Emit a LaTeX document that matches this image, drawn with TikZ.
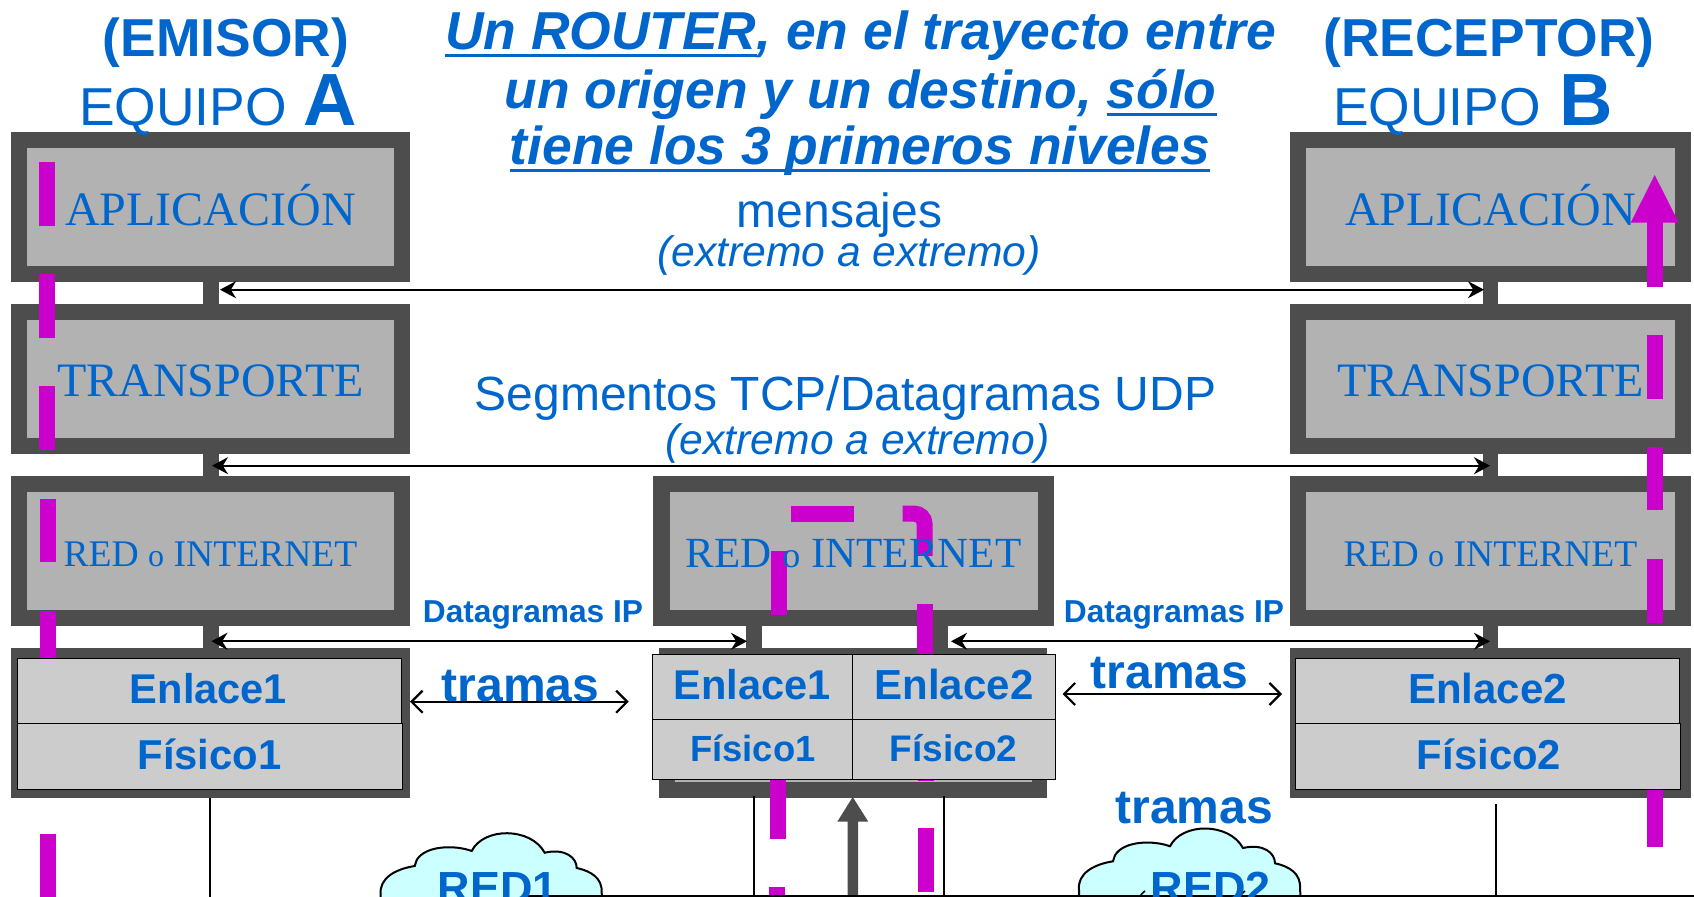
\documentclass[tikz,border=0pt]{standalone}
\usepackage{fontspec}
\usetikzlibrary{arrows.meta}
\setmainfont{Liberation Sans}
\newfontfamily\serifface{Liberation Serif}
\definecolor{tblue}{HTML}{0066CC}
\definecolor{dgray}{HTML}{4D4D4D}
\definecolor{lgray}{HTML}{B2B2B2}
\definecolor{cellg}{HTML}{CCCCCC}
\definecolor{magen}{HTML}{CC00CC}
\definecolor{cloudc}{HTML}{CCFFFF}
\newcommand{\bx}[6]{\node[#6,minimum width={(#4-#2)*0.5pt},minimum height={(#5-#3)*0.5pt}] (#1) at ({(#2+#4)/2},{(#3+#5)/2}) {};}
\newcommand{\tx}[6]{\node[lbl,font=#6] (#1) at (#2,#3) {#5};}
\newcommand{\pxsize}[1]{\fontsize{#1}{#1}\selectfont}
\newsavebox{\ulbox}
\newcommand{\ul}[1]{\sbox{\ulbox}{#1}\rlap{\rule[-3.6pt]{\wd\ulbox}{1.5pt}}\usebox{\ulbox}}
\tikzset{
 outerbox/.style={rectangle,fill=dgray,draw=none,inner sep=0pt,outer sep=0pt},
 innerbox/.style={rectangle,fill=lgray,draw=none,inner sep=0pt,outer sep=0pt},
 cellbox/.style={rectangle,fill=cellg,draw=black,line width=.5pt,inner sep=0pt,outer sep=0pt},
 lbl/.style={anchor=base,inner sep=0pt,outer sep=0pt,text=tblue},
 magd/.style={draw=magen,line width=8pt,line cap=butt},
 dbl/.style={draw=black,line width=1.1pt,{Stealth[length=8pt,width=8.5pt]}-{Stealth[length=8pt,width=8.5pt]}},
 opn/.style={draw=black,line width=1.1pt,{Straight Barb[length=5.5pt,width=11pt]}-{Straight Barb[length=5.5pt,width=11pt]}},
 vline/.style={draw=black,line width=1pt},
 cloudsh/.style={draw=black,fill=cloudc,line width=1pt},
}
\begin{document}
\begin{tikzpicture}[x=0.5pt,y=-0.5pt]
\useasboundingbox (0,0) rectangle (1694,897);
\clip (0,0) rectangle (1694,897);
% stubs
\bx{sa1}{203}{282}{218.5}{304}{outerbox}
\bx{sa2}{203}{454}{218.5}{476}{outerbox}
\bx{sa3}{203}{625}{218.5}{648}{outerbox}
\bx{sb1}{1482.7}{282}{1498.3}{304}{outerbox}
\bx{sb2}{1482.7}{454}{1498.3}{476}{outerbox}
\bx{sb3}{1482.7}{625}{1498.3}{648}{outerbox}
\bx{sr1}{746.3}{625}{762.3}{655}{outerbox}
\bx{sr2}{932.7}{625}{948}{655}{outerbox}
% boxes A
\bx{aapp}{11}{132}{410}{282}{outerbox}\bx{aappi}{27}{148}{394}{266}{innerbox}
\bx{atra}{11}{304}{410}{454}{outerbox}\bx{atrai}{27}{320}{394}{438}{innerbox}
\bx{ared}{11}{476}{410}{626}{outerbox}\bx{aredi}{27}{492}{394}{610}{innerbox}
\bx{aenl}{11}{648}{410}{798}{outerbox}
% boxes B
\bx{bapp}{1290.3}{132}{1690.7}{282}{outerbox}\bx{bappi}{1306.3}{148}{1675}{266}{innerbox}
\bx{btra}{1290.3}{304}{1690.7}{454}{outerbox}\bx{btrai}{1306.3}{320}{1675}{438}{innerbox}
\bx{bred}{1290.3}{476}{1690.7}{626}{outerbox}\bx{bredi}{1306.3}{492}{1675}{610}{innerbox}
\bx{benl}{1290.3}{648}{1690.7}{798}{outerbox}
% router
\bx{rred}{653.3}{476}{1053.7}{626}{outerbox}\bx{rredi}{669.7}{492.3}{1038}{610}{innerbox}
\bx{renl}{659}{648}{1047}{798}{outerbox}\bx{renli}{675}{655}{1032}{782}{innerbox}
% magenta path, column A
\draw[magd] (46.7,161.7) -- (46.7,226);
\draw[magd] (47,274) -- (47,338);
\draw[magd] (47.2,386.3) -- (47.2,450);
\draw[magd] (47.5,498.6) -- (47.5,562);
\draw[magd] (48,610.9) -- (48,675);
\draw[magd] (48.2,833.7) -- (48.2,897);
% magenta path, router
\draw[magd] (779,551) -- (779,615);
\draw[magd] (778,775) -- (778,839);
\draw[magd] (777.3,887.3) -- (777.3,897);
\draw[magd] (790.7,513.7) -- (854.3,513.7);
\draw[magd,rounded corners=5pt] (902.7,513.7) -- (924.5,513.7) -- (924.5,556);
\draw[magd] (924.7,604.3) -- (924.7,668);
\draw[magd] (925.5,716) -- (925.5,781);
\draw[magd] (926,828.3) -- (926,892.3);
% magenta path, column B
\draw[magd] (1654.7,222) -- (1654.7,286.7);
\fill[magen] (1654.7,175) -- (1678.7,222.7) -- (1630.7,222.7) -- cycle;
\draw[magd] (1654.7,335) -- (1654.7,398.7);
\draw[magd] (1654.7,447.3) -- (1654.7,510);
\draw[magd] (1654.7,559) -- (1654.7,623);
\draw[magd] (1654.7,783) -- (1654.7,847);
\draw[magd] (1654.7,895) -- (1654.7,897);
% cells
\bx{ac1}{17.3}{658.7}{401.6}{724}{cellbox}
\bx{ac2}{17.3}{723.7}{402.7}{789.3}{cellbox}
\bx{bc1}{1295}{658.7}{1679}{724}{cellbox}
\bx{bc2}{1295}{723.7}{1680.5}{789.3}{cellbox}
\bx{rc1}{652.6}{654.3}{852.7}{719.3}{cellbox}
\bx{rc2}{852.7}{654.3}{1055}{719.3}{cellbox}
\bx{rc3}{652.6}{719.3}{852.7}{779.3}{cellbox}
\bx{rc4}{852.7}{719.3}{1055}{779.3}{cellbox}
% vertical lines below
\coordinate (la) at (210.3,798);\coordinate (lae) at (210.3,897);
\coordinate (lr1) at (754.4,796);\coordinate (lr1e) at (754.4,897);
\coordinate (lr2) at (944,796);\coordinate (lr2e) at (944,897);
\coordinate (lb) at (1496,804);\coordinate (lbe) at (1496,897);
\draw[vline] (la) -- (lae);
\draw[vline] (lr1) -- (lr1e);
\draw[vline] (lr2) -- (lr2e);
\draw[vline] (lb) -- (lbe);
% gray arrow
\fill[dgray] (852.7,797) -- (868.3,821.7) -- (858,821.7) -- (858,897) -- (847.7,897) -- (847.7,821.7) -- (837.3,821.7) -- cycle;
% clouds
\newcommand{\cloudshape}{(0,62) .. controls (-2,45) and (15,36) .. (34,33) -- (36,27) .. controls (45,12) and (75,12) .. (91,18)
 .. controls (103,-6) and (150,-6) .. (164,19.7) .. controls (185,15) and (196,25) .. (196,35)
 .. controls (210,38) and (222,45) .. (221,60) -- (223,90) -- (0,90) -- cycle}
\draw[cloudsh,shift={(380.7,833)}] \cloudshape;
\draw[cloudsh,shift={(1079,828.3)}] \cloudshape;
\draw[black,line width=.8pt] (1140,897) .. controls (1142,892) and (1145,892) .. (1145,891);
\draw[black,line width=.8pt] (1240,897) .. controls (1242,892) and (1245,892) .. (1245,891);
% bottom line
\coordinate (bl) at (522,896);\coordinate (br) at (1694,896);
\draw[vline] (bl) -- (br);
% arrows
\coordinate (a1l) at (220,289.7);\coordinate (a1r) at (1484,289.7);
\coordinate (a2l) at (212,465.7);\coordinate (a2r) at (1490,465.7);
\coordinate (a3l) at (211.4,641.3);\coordinate (a3r) at (747,641.3);
\coordinate (a4l) at (951,641.3);\coordinate (a4r) at (1490,641.3);
\coordinate (t1l) at (410,701.7);\coordinate (t1r) at (628.7,701.7);
\coordinate (t2l) at (1062.6,694);\coordinate (t2r) at (1282,694);
\draw[dbl] (a1l) -- (a1r);
\draw[dbl] (a2l) -- (a2r);
\draw[dbl] (a3l) -- (a3r);
\draw[dbl] (a4l) -- (a4r);
\draw[opn] (t1l) -- (t1r);
\draw[opn] (t2l) -- (t2r);
% headings
\tx{h1}{226}{56.5}{}{(EMISOR)}{\bfseries\pxsize{26.7}}
\node[lbl,anchor=base west] (h2) at (79,126) {\pxsize{26.7}EQUIPO\hspace{8.5pt}{\bfseries\pxsize{37}A}};
\tx{h3}{1489}{56.5}{}{(RECEPTOR)}{\bfseries\pxsize{26.7}}
\node[lbl,anchor=base west] (h4) at (1333,126) {\pxsize{26.7}EQUIPO\hspace{9.5pt}{\bfseries\pxsize{37}B}};
\tx{t1}{860.5}{50}{}{\ul{Un ROUTER}, en el trayecto entre}{\bfseries\itshape\pxsize{26.7}}
\tx{t2}{860.5}{108.5}{}{un origen y un destino, \ul{sólo}}{\bfseries\itshape\pxsize{26.7}}
\tx{t3}{860}{165}{}{\ul{tiene los 3 primeros niveles}}{\bfseries\itshape\pxsize{26.7}}
% layer labels
\tx{l1}{210.5}{225.5}{}{APLICACIÓN}{\serifface\pxsize{24}}
\tx{l2}{1490.5}{225.5}{}{APLICACIÓN}{\serifface\pxsize{24}}
\tx{l3}{210.5}{397}{}{TRANSPORTE}{\serifface\pxsize{24}}
\tx{l4}{1490.5}{397}{}{TRANSPORTE}{\serifface\pxsize{24}}
\tx{l5}{210.5}{567}{}{RED {\pxsize{16}o} INTERNET}{\serifface\pxsize{18.8}}
\tx{l6}{1490.5}{567}{}{RED {\pxsize{16}o} INTERNET}{\serifface\pxsize{18.8}}
\tx{l7}{853.5}{567.3}{}{RED {\pxsize{18}o} INTERNET}{\serifface\pxsize{21.5}}
% annotations
\tx{m1}{839.5}{228}{}{mensajes}{\pxsize{24}}
\tx{m2}{849}{267}{}{(extremo a extremo)}{\itshape\pxsize{21.3}}
\tx{m3}{845.5}{411}{}{Segmentos TCP/Datagramas UDP}{\pxsize{24}}
\tx{m4}{857.5}{455}{}{(extremo a extremo)}{\itshape\pxsize{21.3}}
\tx{d1}{533}{623}{}{Datagramas IP}{\bfseries\pxsize{15.85}}
\tx{d2}{1174}{623}{}{Datagramas IP}{\bfseries\pxsize{15.85}}
% cell labels
\tx{c1}{208.5}{704}{}{Enlace1}{\bfseries\pxsize{20.8}}
\tx{c2}{209.5}{770}{}{Físico1}{\bfseries\pxsize{20.9}}
\tx{c3}{752}{699.3}{}{Enlace1}{\bfseries\pxsize{20.8}}
\tx{c4}{752.8}{762}{}{Físico1}{\bfseries\pxsize{18.2}}
\tx{c5}{954}{699.3}{}{Enlace2}{\bfseries\pxsize{21}}
\tx{c6}{953.5}{762}{}{Físico2}{\bfseries\pxsize{18.5}}
\tx{c7}{1487.5}{704}{}{Enlace2}{\bfseries\pxsize{21}}
\tx{c8}{1489}{770}{}{Físico2}{\bfseries\pxsize{20.9}}
\tx{tr1}{520.5}{702}{}{tramas}{\bfseries\pxsize{24}}
\tx{tr2}{1169.5}{689}{}{tramas}{\bfseries\pxsize{24}}
\tx{tr3}{1194.2}{824}{}{tramas}{\bfseries\pxsize{24}}
\tx{r1}{498}{904}{}{RED1}{\bfseries\pxsize{22.5}}
\tx{r2}{1211}{904}{}{RED2}{\bfseries\pxsize{22.5}}
\end{tikzpicture}
\end{document}
